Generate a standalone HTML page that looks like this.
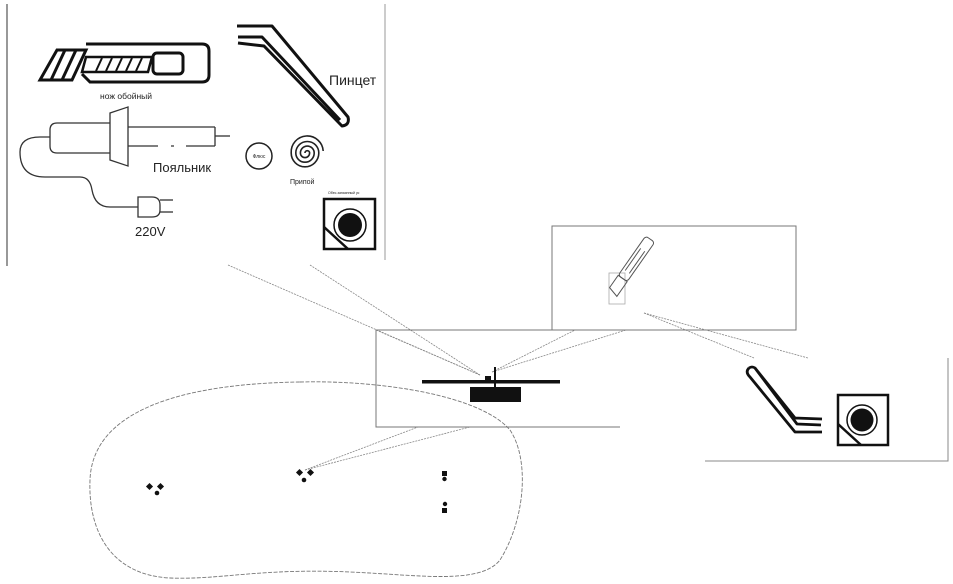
<!DOCTYPE html>
<html><head><meta charset="utf-8"><style>
html,body{margin:0;padding:0;background:#fff;}
svg{display:block;}
text{font-family:"Liberation Sans","DejaVu Sans",sans-serif;fill:#222;}
</style></head><body>
<svg width="953" height="584" viewBox="0 0 953 584" xmlns="http://www.w3.org/2000/svg">
<line x1="7" y1="4" x2="7" y2="266" stroke="#555" stroke-width="1.2"/>
<line x1="385" y1="4" x2="385" y2="260" stroke="#999" stroke-width="1"/>
<g fill="none" stroke="#111" stroke-width="3">
<path d="M86 44 L202 44 Q209 44 209 51 L209 75 Q209 82 202 82 L90 82 L82 74"/>
<path d="M57 50 L86 50 L72 80 L40 80 Z"/>
<line x1="51" y1="80" x2="65" y2="50"/><line x1="62" y1="80" x2="76" y2="50"/>
<path d="M86 57 L152 57 L148 72 L82 72 Z" stroke-width="2.5"/>
<line x1="96" y1="71" x2="102" y2="58" stroke-width="2"/><line x1="106" y1="71" x2="112" y2="58" stroke-width="2"/>
<line x1="116" y1="71" x2="122" y2="58" stroke-width="2"/><line x1="126" y1="71" x2="132" y2="58" stroke-width="2"/>
<line x1="136" y1="71" x2="142" y2="58" stroke-width="2"/>
<rect x="153" y="53" width="30" height="21" rx="4"/>
</g>
<text x="100" y="99" font-size="8.5">нож обойный</text>
<path d="M237 26 L272 26 L348 117 Q350 125 342 126 L264 46 L238 43 M238 37 L262 37 L340 120" fill="none" stroke="#111" stroke-width="3" stroke-linejoin="round"/>
<text x="329" y="85" font-size="14">Пинцет</text>
<g fill="none" stroke="#333" stroke-width="1.3">
<path d="M110 123 L57 123 Q50 123 50 130 L50 146 Q50 153 57 153 L110 153"/>
<path d="M110 113 L128 107 L128 166 L110 160 Z"/>
<line x1="128" y1="127" x2="215" y2="127"/>
<line x1="215" y1="127" x2="215" y2="146"/>
<path d="M128 146 L158 146 M171 146 L174 146 M186 146 L215 146"/>
<line x1="215" y1="136" x2="230" y2="136"/>
<path d="M50 137 L40 137 Q20 137 20 152 Q20 177 45 177 L80 177 Q90 177 92 190 Q95 207 110 207 L138 207"/>
<path d="M138 197 L152 197 Q160 197 160 205 L160 210 Q160 217 152 217 L138 217 Z"/>
<line x1="160" y1="200" x2="173" y2="200"/><line x1="160" y1="212" x2="173" y2="212"/>
</g>
<text x="153" y="172" font-size="13">Пояльник</text>
<text x="135" y="236" font-size="13">220V</text>
<circle cx="259" cy="156" r="13" fill="none" stroke="#222" stroke-width="1.5"/>
<text x="259" y="158" font-size="5" text-anchor="middle">Флюс</text>
<path d="M305 153 m0 0 a2.3 2.3 0 0 1 4.6 0 a4.6 4.6 0 0 1 -9.2 0 a6.9 6.9 0 0 1 13.8 0 a9.2 9.2 0 0 1 -18.4 0 a11.5 11.5 0 0 1 23 0 a13.8 13.8 0 0 1 -27.6 0 a16 16 0 0 1 32 -2" fill="none" stroke="#222" stroke-width="1.6"/>
<text x="290" y="184" font-size="7">Припой</text>
<text x="328" y="194" font-size="3.5">Обес.запаянный ус</text>
<rect x="324" y="199" width="51" height="50" fill="none" stroke="#111" stroke-width="2.5"/>
<circle cx="350" cy="225" r="16" fill="none" stroke="#111" stroke-width="1.5"/>
<circle cx="350" cy="225" r="12" fill="#111"/>
<line x1="324" y1="227" x2="348" y2="249" stroke="#111" stroke-width="2.5"/>
<g stroke="#888" stroke-width="0.8" stroke-dasharray="2 1" fill="none">
<line x1="228" y1="265" x2="480" y2="375"/>
<line x1="310" y1="265" x2="480" y2="375"/>
<line x1="376" y1="330" x2="480" y2="375"/>
<line x1="492" y1="372" x2="575" y2="330"/>
<line x1="492" y1="372" x2="626" y2="330"/>
<line x1="305" y1="470" x2="418" y2="427"/>
<line x1="305" y1="470" x2="470" y2="427"/>
<line x1="644" y1="313" x2="754" y2="358"/>
<line x1="644" y1="313" x2="808" y2="358"/>
</g>
<path d="M620 330 L376 330 L376 427 L620 427" fill="none" stroke="#777" stroke-width="1"/>
<rect x="422" y="380" width="138" height="3.5" fill="#111"/>
<rect x="470" y="387" width="51" height="15" fill="#111"/>
<rect x="485" y="376" width="6" height="5" fill="#111"/>
<rect x="494" y="367" width="2" height="21" fill="#111"/>
<rect x="552" y="226" width="244" height="104" fill="none" stroke="#777" stroke-width="1"/>
<rect x="609" y="273" width="16" height="31" fill="none" stroke="#aaa" stroke-width="0.8"/>
<g transform="translate(628,270) rotate(-55)" fill="none" stroke="#555" stroke-width="1">
<rect x="-10" y="-5" width="48" height="11" rx="3"/>
<path d="M-25 -5 L-10 -5 L-10 6 L-28 6 Z"/>
<line x1="-2" y1="-2" x2="25" y2="-2"/><line x1="-2" y1="3" x2="25" y2="3"/>
</g>
<path d="M705 461 L948 461 L948 358" fill="none" stroke="#888" stroke-width="1"/>
<path d="M749 368 Q745 372 750 377 L795 432 L822 432 M755 368 L795 418 L822 419 M749 368 Q752 366 755 368 L797 424 L821 425" fill="none" stroke="#111" stroke-width="2.8" stroke-linejoin="round"/>
<rect x="838" y="395" width="50" height="50" fill="none" stroke="#111" stroke-width="2.5"/>
<circle cx="862" cy="420" r="15" fill="none" stroke="#111" stroke-width="1.5"/>
<circle cx="862" cy="420" r="11.5" fill="#111"/>
<line x1="838" y1="424" x2="861" y2="445" stroke="#111" stroke-width="2.5"/>
<path d="M300 382 C380 380 480 395 510 430 C530 460 525 520 500 560 C480 585 420 575 350 572 C260 568 220 580 170 578 C110 575 88 530 90 480 C92 420 160 384 300 382 Z" fill="none" stroke="#777" stroke-width="0.9" stroke-dasharray="4 1.5"/>
<g fill="#111">
<rect x="147" y="484" width="5" height="5" transform="rotate(45 149.5 486.5)"/>
<rect x="158" y="484" width="5" height="5" transform="rotate(45 160.5 486.5)"/>
<circle cx="157" cy="493" r="2.3"/>
<rect x="297" y="470" width="5" height="5" transform="rotate(45 299.5 472.5)"/>
<rect x="308" y="470" width="5" height="5" transform="rotate(45 310.5 472.5)"/>
<circle cx="304" cy="480" r="2.3"/>
<rect x="442" y="471" width="5" height="5"/>
<circle cx="444.5" cy="479" r="2.2"/>
<circle cx="445" cy="504" r="2.2"/>
<rect x="442" y="508" width="5" height="5"/>
</g>
</svg>
</body></html>
